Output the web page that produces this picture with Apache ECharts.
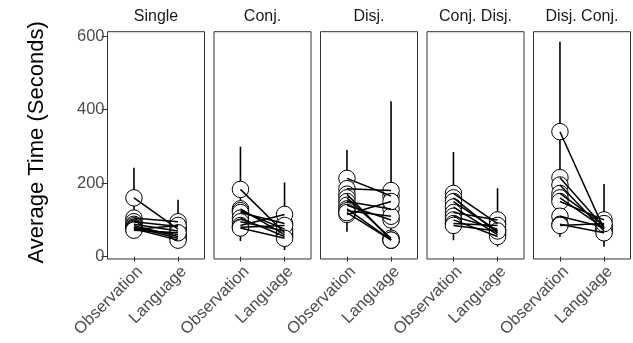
<!DOCTYPE html>
<html>
<head>
<meta charset="utf-8">
<script src="https://cdn.jsdelivr.net/npm/echarts@6/dist/echarts.min.js"></script>
<style>html,body{margin:0;padding:0;background:#fff}#c{width:633px;height:343px}</style>
</head>
<body>
<div id="c"></div>
<script>
const categories = ['Observation', 'Language'];
const panels = ['Single', 'Conj.', 'Disj.', 'Conj. Disj.', 'Disj. Conj.'];
const yTicks = [0, 200, 400, 600];
const yTitle = 'Average Time (Seconds)';

// per-participant averages (Observation, Language) for each panel
const singleObs = [160, 105, 95, 88, 84, 80, 78, 76, 74, 72];
const singleLang = [75, 95, 82, 70, 55, 50, 60, 45, 85, 65];
const conjObs = [183, 130, 125, 120, 105, 95, 85, 80, 78];
const conjLang = [65, 60, 75, 90, 55, 70, 115, 85, 50];
const disjObs = [213, 185, 170, 160, 150, 140, 130, 125, 115, 120];
const disjLang = [165, 180, 45, 50, 130, 100, 45, 110, 150, 45];
const conjDisjObs = [172, 160, 150, 135, 120, 110, 100, 90, 85];
const conjDisjLang = [90, 65, 70, 60, 100, 75, 55, 85, 70];
const disjConjObs = [340, 215, 195, 172, 160, 150, 110, 88, 85];
const disjConjLang = [75, 80, 70, 85, 78, 100, 80, 65, 90];

// overall vertical ranges per panel (Observation / Language)
const obsLow = [51, 43, 68, 45, 54];
const obsHigh = [242, 299, 290, 285, 585];
const langLow = [28, 18, 21, 27, 27];
const langHigh = [155, 202, 423, 186, 198];

const obsAll = [singleObs, conjObs, disjObs, conjDisjObs, disjConjObs];
const langAll = [singleLang, conjLang, disjLang, conjDisjLang, disjConjLang];

const FONT = '"Liberation Sans", Arial, Helvetica, sans-serif';
const L0 = 107.5, PITCH = 106.5, PW = 97, TOP = 31.7, PH = 227.3;

const grid = [], xAxis = [], yAxis = [], series = [], graphic = [];
panels.forEach((p, i) => {
  grid.push({left: L0 + PITCH * i, top: TOP, width: PW, height: PH, show: true,
    borderColor: '#333333', borderWidth: 1, backgroundColor: 'transparent', containLabel: false});
  xAxis.push({type: 'value', gridIndex: i, min: 0.4, max: 2.6,
    splitLine: {show: false}, axisLine: {show: false},
    axisTick: {show: true, customValues: [1, 2], length: 5, lineStyle: {color: '#333333', width: 1}},
    axisLabel: {customValues: [1, 2], formatter: v => categories[Math.round(v) - 1], rotate: 45,
      align: 'right', verticalAlign: 'top',
      color: '#4D4D4D', fontSize: 16.5, fontFamily: FONT, margin: 4}});
  yAxis.push({type: 'value', gridIndex: i, min: -6.3, max: 612,
    splitLine: {show: false}, axisLine: {show: false},
    axisTick: {show: i === 0, customValues: yTicks, length: 6, lineStyle: {color: '#333333', width: 1}},
    axisLabel: {show: i === 0, customValues: yTicks, color: '#4D4D4D', fontSize: 16.5, fontFamily: FONT, margin: 3}});
  const lineCommon = {type: 'line', xAxisIndex: i, yAxisIndex: i, symbol: 'none', showSymbol: false,
    silent: true, animation: false};
  series.push(Object.assign({}, lineCommon, {data: [[1, obsLow[i]], [1, obsHigh[i]]], z: 1,
    lineStyle: {color: '#000', width: 1.6}}));
  series.push(Object.assign({}, lineCommon, {data: [[2, langLow[i]], [2, langHigh[i]]], z: 1,
    lineStyle: {color: '#000', width: 1.6}}));
  const pts = obsAll[i].map(v => [1, v]).concat(langAll[i].map(v => [2, v]));
  series.push({type: 'scatter', xAxisIndex: i, yAxisIndex: i, data: pts, symbol: 'circle', symbolSize: 16.5,
    itemStyle: {color: '#ffffff', borderColor: '#000000', borderWidth: 1, opacity: 1}, z: 2, animation: false, silent: true});
  obsAll[i].forEach((v, k) => {
    series.push(Object.assign({}, lineCommon, {data: [[1, v], [2, langAll[i][k]]], z: 3,
      lineStyle: {color: '#000', width: 1.5}}));
  });
  graphic.push({type: 'text', x: L0 + PITCH * i + PW / 2, y: 17,
    style: {text: p, align: 'center', verticalAlign: 'middle', fontSize: 16, fontFamily: FONT, fill: '#1A1A1A'}});
});
graphic.push({type: 'text', x: 37, y: TOP + PH / 2 - 3, rotation: Math.PI / 2,
  style: {text: yTitle, align: 'center', verticalAlign: 'middle', fontSize: 22, fontFamily: FONT, fill: '#000'}});

const chart = echarts.init(document.getElementById('c'), null, {renderer: 'canvas'});
chart.setOption({animation: false, backgroundColor: '#ffffff', grid, xAxis, yAxis, series, graphic});
</script>
</body>
</html>
